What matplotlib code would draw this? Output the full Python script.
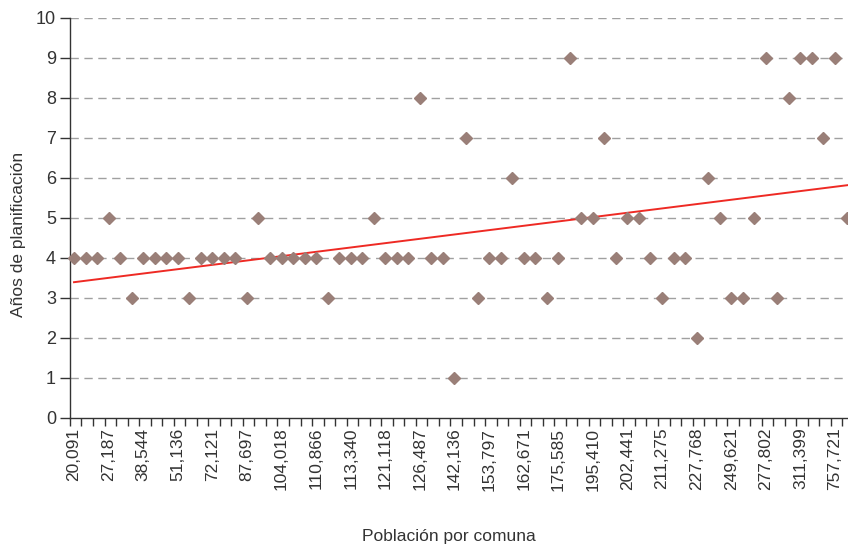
import numpy as np
from matplotlib import pyplot

# planning years per commune, ordered by population (68 communes)
years = [
    4, 4, 4, 5, 4, 3, 4, 4, 4, 4, 3, 4, 4, 4, 4, 3, 5, 4, 4, 4, 4, 4, 3,
    4, 4, 4, 5, 4, 4, 4, 8, 4, 4, 1, 7, 3, 4, 4, 6, 4, 4, 3, 4, 9, 5,
    5, 7, 4, 5, 5, 4, 3, 4, 4, 2, 6, 5, 3, 3, 5, 9, 3, 8, 9, 9, 7, 9, 5,
]
# only every third commune is labelled on the axis
tick_labels = [
    "20,091", "27,187", "38,544", "51,136", "72,121", "87,697", "104,018",
    "110,866", "113,340", "121,118", "126,487", "142,136", "153,797",
    "162,671", "175,585", "195,410", "202,441", "211,275", "227,768",
    "249,621", "277,802", "311,399", "757,721",
]
label_step = 3

pyplot.rcParams["font.family"] = ["Liberation Sans", "DejaVu Sans"]

x = np.arange(len(years))

figure = pyplot.figure(figsize=(8.48, 5.5), dpi=100)
ax = figure.add_axes([0.0825, 0.24, 0.9175, 0.7278])

for y in range(1, 11):
    ax.axhline(y, color="#a0a0a0", linewidth=1.0, linestyle=(0, (6, 4)), zorder=1)

ax.plot(x, years, linestyle="none", marker="D", markersize=5.8,
        color="#9a7f78", zorder=3, clip_on=False)

slope, intercept = np.polyfit(x, years, 1)
xt = np.array([0, len(years) + 1])
ax.plot(xt, slope * xt + intercept, color="#ee2a24", linewidth=1.4, zorder=2)

ax.set_xlim(-0.35, 67.13)
ax.set_ylim(0, 10)

ax.set_xticks(x[::label_step])
ax.set_xticklabels(tick_labels, rotation=90, fontsize=12.5, color="#333333")
ax.set_xticks(np.arange(len(years)) - 0.35, minor=True)
ax.tick_params(axis="x", which="major", length=0, pad=7)
ax.tick_params(axis="x", which="minor", length=6, width=1, color="#333333")
ax.set_yticks(range(0, 11))
ax.tick_params(axis="y", length=7, width=1, color="#333333",
               labelsize=13, labelcolor="#333333", pad=3)

for side in ["top", "right"]:
    ax.spines[side].set_visible(False)
for side in ["left", "bottom"]:
    ax.spines[side].set_color("#333333")
    ax.spines[side].set_linewidth(1)

figure.text(0.529, 0.024, "Población por comuna", ha="center", va="center",
            fontsize=12.5, color="#333333")
figure.text(0.022, 0.573, "Años de planificación", ha="center", va="center",
            rotation=90, fontsize=12.5, color="#333333")

pyplot.savefig("out.png", dpi=100)
